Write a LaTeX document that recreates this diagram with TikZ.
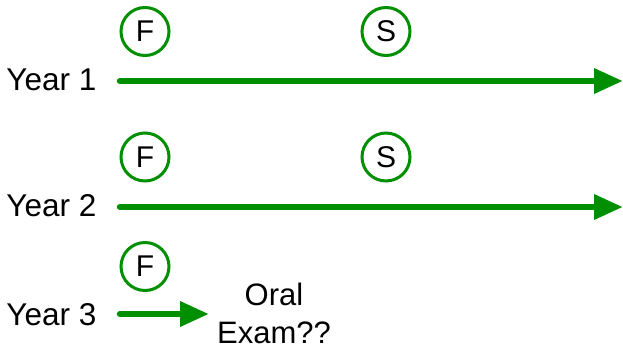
\documentclass[tikz,border=0pt]{standalone}
\usepackage{fontspec}
\setmainfont{Liberation Sans}
\usetikzlibrary{arrows.meta}
\definecolor{tgreen}{RGB}{0,143,0}
\tikzset{
  yearlabel/.style={font=\fontsize{31.5}{36}\selectfont, anchor=base east, inner sep=0pt},
  term/.style={circle, draw=tgreen, line width=3pt, minimum size=48pt, inner sep=0pt,
    font=\fontsize{30}{32}\selectfont},
  timeline/.style={draw=tgreen, line width=6.5pt, line cap=round,
    -{Triangle[length=29pt,width=24pt]}},
}
\begin{document}
\begin{tikzpicture}[x=1pt,y=-1pt]
\useasboundingbox (0,0) rectangle (623,346);
% Year 1
\node[yearlabel] (y1) at (96.5,90.5) {Year 1};
\coordinate (s1) at (120,81);
\coordinate (e1) at (623,81);
\draw[timeline] (s1) -- (e1);
\node[term] (f1) at (145,31.5) {F};
\node[term] (sp1) at (386,31.5) {S};
% Year 2
\node[yearlabel] (y2) at (96.5,216) {Year 2};
\coordinate (s2) at (120,207);
\coordinate (e2) at (623,207);
\draw[timeline] (s2) -- (e2);
\node[term] (f2) at (145,157) {F};
\node[term] (sp2) at (386,157) {S};
% Year 3
\node[yearlabel] (y3) at (96.5,325) {Year 3};
\coordinate (s3) at (120,314);
\coordinate (e3) at (209,314);
\draw[timeline] (s3) -- (e3);
\node[term] (f3) at (145,266.5) {F};
\node[font=\fontsize{31}{38}\selectfont, align=center, inner sep=0pt] (oral) at (274,313) {Oral\\Exam??};
\end{tikzpicture}
\end{document}
